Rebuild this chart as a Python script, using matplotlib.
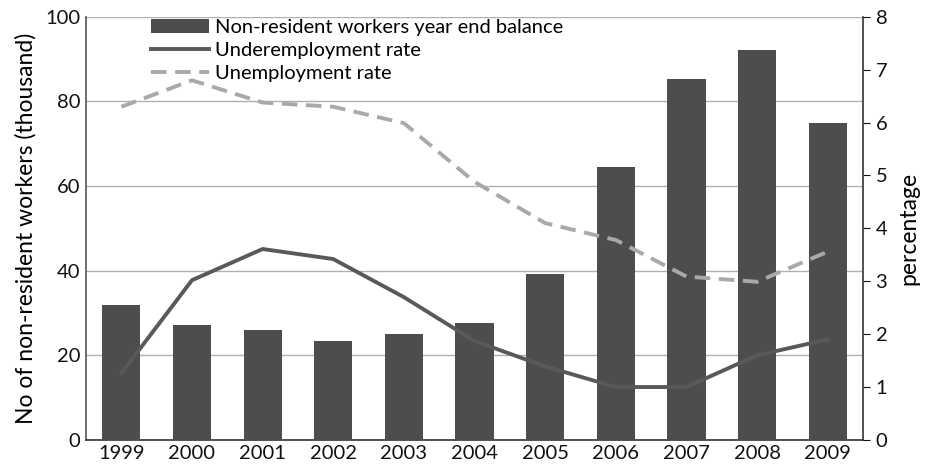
import matplotlib
matplotlib.use("Agg")
import matplotlib.pyplot as plt
import numpy as np

years = ["1999", "2000", "2001", "2002", "2003", "2004", "2005", "2006", "2007", "2008", "2009"]
workers = [32, 27.2, 26, 23.4, 25.1, 27.6, 39.2, 64.6, 85.3, 92.2, 74.9]
underemployment = [1.26, 3.02, 3.61, 3.42, 2.7, 1.87, 1.39, 1.0, 1.0, 1.6, 1.9]
unemployment = [6.3, 6.8, 6.38, 6.3, 5.99, 4.88, 4.1, 3.78, 3.09, 2.99, 3.56]

plt.rcParams['font.family'] = ['Lato', 'DejaVu Sans']

fig = plt.figure(figsize=(9.25, 4.68), dpi=100)
ax = fig.add_axes([0.093, 0.06, 0.840, 0.904])
ax2 = ax.twinx()

x = np.arange(len(years))
bars = ax.bar(x, workers, width=0.54, color='#4d4d4d', zorder=3,
              label='Non-resident workers year end balance')
ax.set_xlim(-0.5, len(years) - 0.5)
ax.set_ylim(0, 100)
ax.set_yticks([0, 20, 40, 60, 80, 100])
ax.yaxis.grid(True, color='#b0b0b0', linewidth=1.0, zorder=0)
ax.set_axisbelow(True)
ax.set_xticks(x)
ax.set_xticklabels(years)
ax.tick_params(axis='both', labelsize=14.5, length=0, colors='#111111', pad=4)
ax.set_ylabel('No of non-resident workers (thousand)', fontsize=16.5, labelpad=6)
for s in ['top', 'right']:
    ax.spines[s].set_visible(False)
ax.spines['left'].set_color('#555555')
ax.spines['bottom'].set_color('#333333')
ax.spines['left'].set_linewidth(1.2)
ax.spines['bottom'].set_linewidth(1.2)

l1, = ax2.plot(x, underemployment, color='#595959', linewidth=2.8, label='Underemployment rate')
l2, = ax2.plot(x, unemployment, color='#a9a9a9', linewidth=2.8, linestyle=(0, (4, 2.2)),
               label='Unemployment rate')
ax2.set_ylim(0, 8)
ax2.set_yticks(range(0, 9))
ax2.tick_params(axis='y', labelsize=14.5, length=5, direction='out', colors='#111111', pad=4)
ax2.set_ylabel('percentage', fontsize=16.5, labelpad=8)
for s in ['top', 'left', 'bottom']:
    ax2.spines[s].set_visible(False)
ax2.spines['right'].set_color('#333333')
ax2.spines['right'].set_linewidth(1.2)

leg = ax2.legend([bars, l1, l2],
                 ['Non-resident workers year end balance', 'Underemployment rate', 'Unemployment rate'],
                 loc='upper left', bbox_to_anchor=(0.073, 1.015), frameon=False, fontsize=14.5,
                 handlelength=2.9, handletextpad=0.3, labelspacing=0.3, borderaxespad=0)

fig.savefig('out.png', dpi=100)
